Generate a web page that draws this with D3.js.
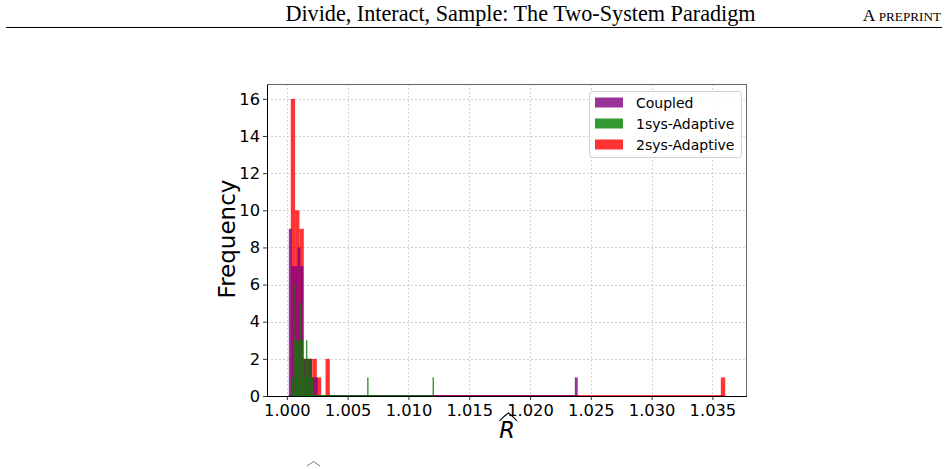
<!DOCTYPE html>
<html>
<head>
<meta charset="utf-8">
<script src="https://cdn.jsdelivr.net/npm/d3@7"></script>
<style>
  body { margin: 0; background: #fff; }
  svg { display: block; }
</style>
</head>
<body>
<div id="chart"></div>
<script>
// header texts
const headerTitle = "Divide, Interact, Sample: The Two-System Paradigm";
const headerTag = ["A", "PREPRINT"];

// series (legend order)
const seriesNames = ["Coupled", "1sys-Adaptive", "2sys-Adaptive"];
const seriesColors = ["purple", "green", "red"];

// each histogram: 100 equal bins between min and max R-hat
const nBins = 100;
const coupledRange = [1.00016, 1.02392];
const coupledHead = [9, 7, 7, 8, 7, 2, 2, 2, 1, 1];      // first bins
const coupledTail = [[99, 1]];                          // [bin, count]

const oneSysRange = [1.0004, 1.0121];
const oneSysHead = [1, 6, 3, 3, 3, 3, 5, 3, 2, 1, 3, 2, 1, 2, 1];
const oneSysTail = [[53, 1], [99, 1]];

const twoSysRange = [1.00032, 1.03605];
const twoSysHead = [16, 10, 9, 2, 2, 2, 1, 0, 2];
const twoSysTail = [[99, 1]];

// ticks
const xTicks = [1.000, 1.005, 1.010, 1.015, 1.020, 1.025, 1.030, 1.035];
const yTicks = [0, 2, 4, 6, 8, 10, 12, 14, 16];

// build bins for one series
function makeBins(range, head, tail) {
  const counts = new Array(nBins).fill(0);
  head.forEach((c, i) => counts[i] = c);
  tail.forEach(t => counts[t[0]] = t[1]);
  const w = (range[1] - range[0]) / nBins;
  return counts.map((c, i) => ({x0: range[0] + i * w, x1: range[0] + (i + 1) * w, count: c}));
}

const series = [
  {name: seriesNames[0], color: seriesColors[0], range: coupledRange, bins: makeBins(coupledRange, coupledHead, coupledTail)},
  {name: seriesNames[1], color: seriesColors[1], range: oneSysRange, bins: makeBins(oneSysRange, oneSysHead, oneSysTail)},
  {name: seriesNames[2], color: seriesColors[2], range: twoSysRange, bins: makeBins(twoSysRange, twoSysHead, twoSysTail)}
];

const W = 948, H = 469;
const margin = {top: 84, right: 201, bottom: 73, left: 267};
const width = W - margin.left - margin.right,
      height = H - margin.top - margin.bottom;

const svg = d3.select("#chart").append("svg")
  .attr("width", W).attr("height", H)
  .style("font-family", "'DejaVu Sans', sans-serif");

// page header
svg.append("text")
  .attr("x", 520.5).attr("y", 21)
  .attr("text-anchor", "middle")
  .style("font-family", "'Liberation Serif', serif")
  .style("font-size", "22.2px")
  .text(headerTitle);
const tag = svg.append("text")
  .attr("x", 941).attr("y", 21)
  .attr("text-anchor", "end")
  .style("font-family", "'Liberation Serif', serif");
tag.append("tspan").style("font-size", "17.5px").text(headerTag[0] + " ");
tag.append("tspan").style("font-size", "13.2px").text(headerTag[1]);
svg.append("line")
  .attr("x1", 6).attr("x2", 942).attr("y1", 27.5).attr("y2", 27.5)
  .attr("stroke", "#000").attr("stroke-width", 1);

// tiny hat of the cut caption at the bottom
svg.append("path")
  .attr("d", "M307,466 L313.5,461.5 L320,466")
  .attr("fill", "none").attr("stroke", "#555").attr("stroke-width", 0.8);

const g = svg.append("g")
  .attr("transform", "translate(" + margin.left + "," + margin.top + ")");

// scales with matplotlib-like 5% margins
const xMin = d3.min(series, s => s.range[0]),
      xMax = d3.max(series, s => s.range[1]);
const pad = (xMax - xMin) * 0.05;
const x = d3.scaleLinear().domain([xMin - pad, xMax + pad]).range([0, width]);
const yMax = d3.max(series, s => d3.max(s.bins, b => b.count));
const y = d3.scaleLinear().domain([0, yMax * 1.05]).range([height, 0]);

// grid
g.append("g").selectAll("line").data(xTicks).join("line")
  .attr("x1", d => Math.round(x(d)) + 0.5).attr("x2", d => Math.round(x(d)) + 0.5)
  .attr("y1", 0).attr("y2", height)
  .attr("stroke", "#c8c8c8").attr("stroke-width", 0.8).attr("stroke-dasharray", "2,2");
g.append("g").selectAll("line").data(yTicks).join("line")
  .attr("y1", d => Math.round(y(d)) + 0.5).attr("y2", d => Math.round(y(d)) + 0.5)
  .attr("x1", 0).attr("x2", width)
  .attr("stroke", "#c8c8c8").attr("stroke-width", 0.8).attr("stroke-dasharray", "2,2");

// bars: drawn 2sys, Coupled, 1sys (as in the picture)
const drawOrder = [2, 0, 1];
drawOrder.forEach(k => {
  const s = series[k];
  const sg = g.append("g").attr("fill", s.color).attr("fill-opacity", 0.8);
  sg.selectAll("rect").data(s.bins.filter(b => b.count > 0)).join("rect")
    .attr("x", d => x(d.x0))
    .attr("width", d => Math.max(0.8, x(d.x1) - x(d.x0)))
    .attr("y", d => y(d.count))
    .attr("height", d => y(0) - y(d.count));
  // hairline of the empty bins along the base
  sg.append("rect")
    .attr("x", x(s.range[0])).attr("width", x(s.range[1]) - x(s.range[0]))
    .attr("y", height - 1).attr("height", 1);
});

// axes
const xAxis = g.append("g")
  .attr("transform", "translate(0," + height + ")")
  .call(d3.axisBottom(x).tickValues(xTicks).tickFormat(d3.format(".3f")).tickSizeOuter(0).tickSize(4).tickPadding(4));
const yAxis = g.append("g")
  .call(d3.axisLeft(y).tickValues(yTicks).tickSizeOuter(0).tickSize(4).tickPadding(3));
[xAxis, yAxis].forEach(a => {
  a.selectAll("text").style("font-size", "16.3px").style("font-family", "'DejaVu Sans', sans-serif").attr("fill", "#000");
  a.selectAll("line").attr("stroke", "#000").attr("stroke-width", 0.8);
  a.select(".domain").remove();
});

// frame
g.append("line").attr("x1", 0.5).attr("x2", 0.5).attr("y1", 0).attr("y2", height).attr("stroke", "#000");
g.append("line").attr("x1", 0).attr("x2", width).attr("y1", height + 0.5).attr("y2", height + 0.5).attr("stroke", "#000");
g.append("line").attr("x1", 0).attr("x2", width).attr("y1", 0.5).attr("y2", 0.5).attr("stroke", "#666");
g.append("line").attr("x1", width - 0.5).attr("x2", width - 0.5).attr("y1", 0).attr("y2", height).attr("stroke", "#666");

// axis labels
svg.append("text")
  .attr("transform", "translate(235," + (margin.top + height / 2 - 1) + ") rotate(-90)")
  .attr("text-anchor", "middle")
  .style("font-size", "23px")
  .text("Frequency");
const rx = margin.left + width / 2;
svg.append("text")
  .attr("x", rx).attr("y", 438)
  .attr("text-anchor", "middle")
  .style("font-size", "22.5px").style("font-style", "italic")
  .text("R");
svg.append("path")
  .attr("d", "M" + (rx - 7.5) + ",421 Q" + (rx - 3) + ",416 " + (rx + 1.5) + ",413 Q" + (rx + 5.5) + ",416 " + (rx + 10) + ",421")
  .attr("fill", "none").attr("stroke", "#000").attr("stroke-width", 1.1);

// legend
const lg = g.append("g").attr("transform", "translate(" + (width - 158) + ",7)");
lg.append("rect")
  .attr("x", 0.5).attr("y", 0.5).attr("width", 152).attr("height", 66).attr("rx", 3)
  .attr("fill", "#fff").attr("fill-opacity", 0.8).attr("stroke", "#d0d0d0");
series.forEach((s, i) => {
  const row = lg.append("g").attr("transform", "translate(6," + (6.5 + i * 21) + ")");
  row.append("rect").attr("width", 28).attr("height", 10)
    .attr("fill", s.color).attr("fill-opacity", 0.8);
  row.append("text").attr("x", 41).attr("y", 10.5)
    .style("font-size", "14px").text(s.name);
});
</script>
</body>
</html>
